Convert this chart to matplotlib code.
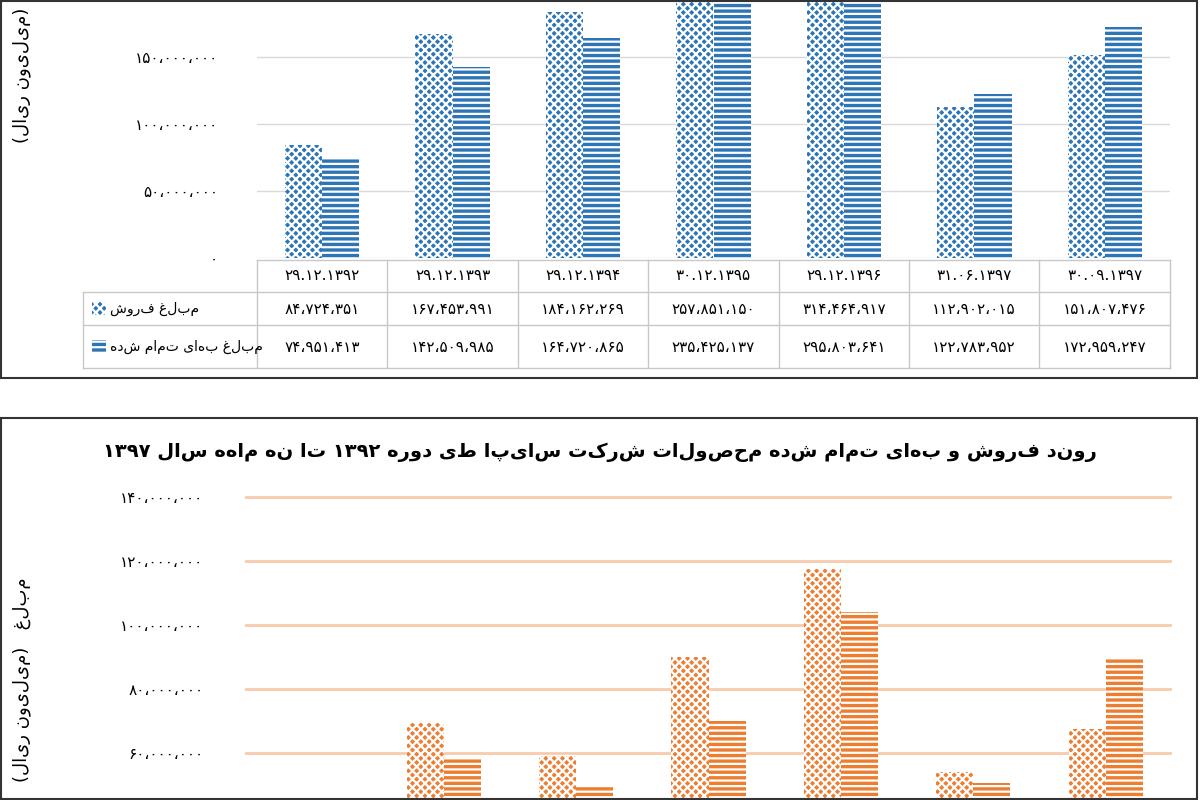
import matplotlib
matplotlib.use("Agg")
import matplotlib.pyplot as plt
from matplotlib.patches import Rectangle
from matplotlib.lines import Line2D
import numpy as np

plt.rcParams["font.family"] = "DejaVu Sans"
plt.rcParams["hatch.linewidth"] = 1.6

periods = ["۲۹.۱۲.۱۳۹۲", "۲۹.۱۲.۱۳۹۳", "۲۹.۱۲.۱۳۹۴", "۳۰.۱۲.۱۳۹۵",
           "۲۹.۱۲.۱۳۹۶", "۳۱.۰۶.۱۳۹۷", "۳۰.۰۹.۱۳۹۷"]
sales_top = [84724351, 167453991, 184162269, 257851150, 314464917, 112902015, 151807476]
cost_top = [74951413, 142509985, 164720865, 235425137, 295803641, 122783952, 172959247]
sales_label = "مبلغ فروش"
cost_label = "مبلغ بهای تمام شده"

# lower chart (cropped in the reference; first group is below the visible range)
sales_bottom = [40e6, 69.4e6, 59e6, 90e6, 117.5e6, 54e6, 67.5e6]
cost_bottom = [35e6, 58.4e6, 50e6, 70e6, 104e6, 50.6e6, 89.4e6]
bottom_title = "روند فروش و بهای تمام شده محصولات شرکت سایپا طی دوره ۱۳۹۲ تا نه ماهه سال ۱۳۹۷"

PD = str.maketrans("0123456789", "۰۱۲۳۴۵۶۷۸۹")
MIRROR = str.maketrans("()", ")(")


def fa_num(v):
    return f"{int(v):,}".replace(",", "،").translate(PD)


def rtl(s):
    words = []
    for w in s.split(" "):
        if any(c in "۰۱۲۳۴۵۶۷۸۹" for c in w):
            words.append(w)
        else:
            words.append(w[::-1].translate(MIRROR))
    return " ".join(words[::-1])


W, H = 1200, 800
fig = plt.figure(figsize=(12, 8), dpi=100)
blue = "#2e75b6"
orange = "#ed7d31"


def fx(px):
    return px / W


def fy(py):
    return 1 - py / H


# panel borders
fig.patches.append(Rectangle((fx(1), fy(378)), fx(1196), (377) / H, transform=fig.transFigure,
                             fill=False, ec="#333333", lw=1.5))
fig.patches.append(Rectangle((fx(1), fy(799)), fx(1196), (381) / H, transform=fig.transFigure,
                             fill=False, ec="#333333", lw=1.5))

# ---- top chart ----
x = np.arange(len(periods))
bw = 0.285
ax1 = fig.add_axes([fx(257), fy(258), fx(1170 - 257), 258 / H])
ax1.bar(x - bw / 2, sales_top, bw, color=blue, edgecolor="white", lw=0, hatch="xxxx")
ax1.bar(x + bw / 2, cost_top, bw, color=blue, edgecolor="white", lw=0, hatch="---")
ax1.set_xlim(-0.5, len(periods) - 0.5)
ax1.set_ylim(0, 193e6)
ax1.set_yticks([0, 50e6, 100e6, 150e6])
ax1.set_yticklabels([fa_num(v) for v in [0, 50e6, 100e6, 150e6]], fontsize=11)
ax1.set_xticks([])
ax1.tick_params(axis="y", length=0, pad=28)
ax1.grid(axis="y", color="#d9d9d9", lw=1)
ax1.set_axisbelow(True)
for s in ax1.spines.values():
    s.set_visible(False)
fig.text(fx(22), fy(8), rtl("(میلیون ریال)"), rotation=90, ha="center", va="top", fontsize=13)

# data table
cols = [257 + 130.4 * i for i in range(8)]
rows = [260, 292, 325, 368]
lc = "#c8c8c8"
for r in rows:
    x0 = 257 if r == 260 else 83
    fig.add_artist(Line2D([fx(x0), fx(1170)], [fy(r), fy(r)], transform=fig.transFigure, color=lc, lw=1))
fig.add_artist(Line2D([fx(83), fx(83)], [fy(292), fy(368)], transform=fig.transFigure, color=lc, lw=1))
for c in cols:
    fig.add_artist(Line2D([fx(c), fx(c)], [fy(260), fy(368)], transform=fig.transFigure, color=lc, lw=1))
for i in range(7):
    cx = (cols[i] + cols[i + 1]) / 2
    fig.text(fx(cx), fy(276), periods[i], ha="center", va="center", fontsize=11)
    fig.text(fx(cx), fy(309), fa_num(sales_top[i]), ha="center", va="center", fontsize=11)
    fig.text(fx(cx), fy(347), fa_num(cost_top[i]), ha="center", va="center", fontsize=11)
fig.text(fx(110), fy(309), rtl(sales_label), ha="left", va="center", fontsize=10)
fig.text(fx(110), fy(347), rtl(cost_label), ha="left", va="center", fontsize=10)
fig.patches.append(Rectangle((fx(92), fy(315)), fx(14), 13 / H, transform=fig.transFigure,
                             fc=blue, ec="white", lw=0, hatch="xxxx"))
fig.patches.append(Rectangle((fx(92), fy(353)), fx(14), 13 / H, transform=fig.transFigure,
                             fc=blue, ec="white", lw=0, hatch="---"))

# ---- bottom chart ----
fig.text(fx(600), fy(452), rtl(bottom_title), ha="center", va="center", fontsize=14, fontweight="bold")
ax2 = fig.add_axes([fx(245), 0, fx(1172 - 245), fy(470)])
bw2 = 0.28
ax2.bar(x - bw2 / 2, sales_bottom, bw2, color=orange, edgecolor="white", lw=0, hatch="xxxx", zorder=3)
ax2.bar(x + bw2 / 2, cost_bottom, bw2, color=orange, edgecolor="white", lw=0, hatch="---", zorder=3)
ax2.set_xlim(-0.5, len(periods) - 0.5)
ax2.set_ylim(45.3e6, 148.4e6)
ticks2 = [60e6, 80e6, 100e6, 120e6, 140e6]
ax2.set_yticks(ticks2)
ax2.set_yticklabels([fa_num(v) for v in ticks2], fontsize=11)
ax2.set_xticks([])
ax2.tick_params(axis="y", length=0, pad=30)
ax2.grid(axis="y", color="#f8cbad", lw=2)
ax2.set_axisbelow(True)
for s in ax2.spines.values():
    s.set_visible(False)
fig.text(fx(22), fy(680), rtl("مبلغ   (میلیون ریال)"), rotation=90, ha="center", va="center", fontsize=13)

fig.savefig("out.png", dpi=100)
